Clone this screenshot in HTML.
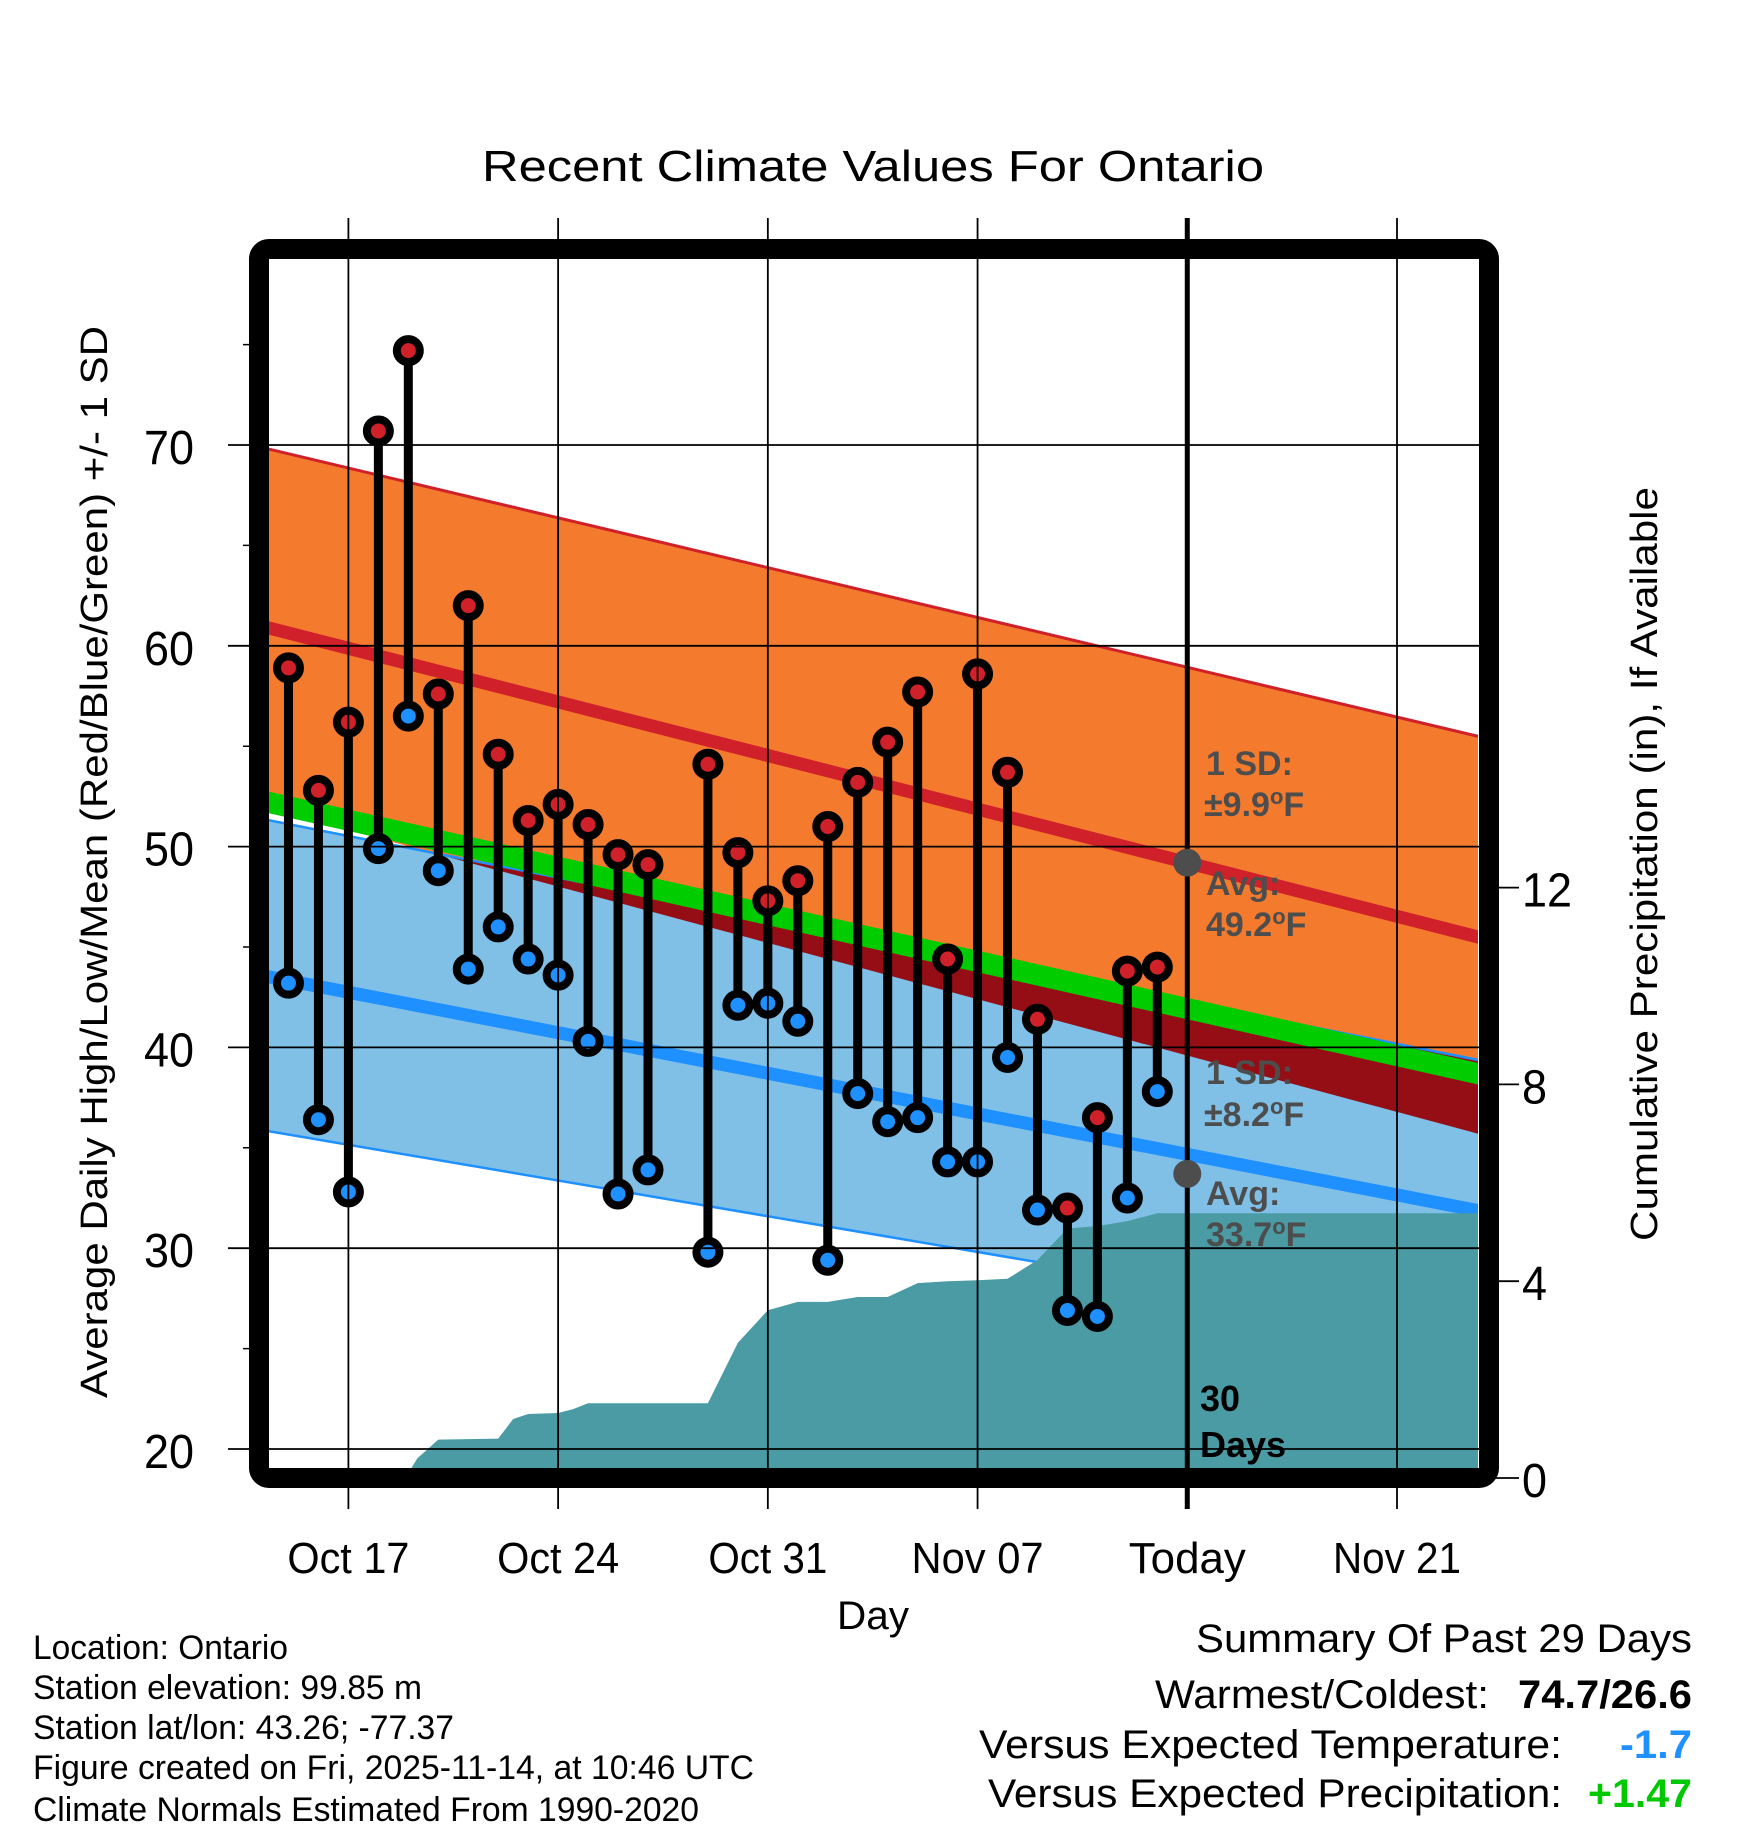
<!DOCTYPE html>
<html><head><meta charset="utf-8">
<style>
html,body{margin:0;padding:0;background:#fff;}
svg{display:block;font-family:"Liberation Sans",Arial,sans-serif;}
</style></head>
<body>
<svg id="chart" width="1748" height="1828" viewBox="0 0 1748 1828" xmlns="http://www.w3.org/2000/svg">
<defs><clipPath id="plotclip"><rect x="269" y="259" width="1209" height="1209"/></clipPath></defs>
<text x="873" y="181" font-size="44" text-anchor="middle" textLength="782" lengthAdjust="spacingAndGlyphs">Recent Climate Values For Ontario</text>
<g id="bands" clip-path="url(#plotclip)"></g>
<g id="marks"></g>
<g id="axes"></g>
<text transform="translate(107,862) rotate(-90)" font-size="38" text-anchor="middle" textLength="1072" lengthAdjust="spacingAndGlyphs">Average Daily High/Low/Mean (Red/Blue/Green) +/- 1 SD</text>
<text transform="translate(1657,864) rotate(-90)" font-size="38" text-anchor="middle" textLength="754" lengthAdjust="spacingAndGlyphs">Cumulative Precipitation (in), If Available</text>
<text x="873" y="1629" font-size="40" text-anchor="middle" textLength="72" lengthAdjust="spacingAndGlyphs">Day</text>
<g font-size="34">
<text x="33" y="1659" textLength="255" lengthAdjust="spacingAndGlyphs">Location: Ontario</text>
<text x="33" y="1699" textLength="389" lengthAdjust="spacingAndGlyphs">Station elevation: 99.85 m</text>
<text x="33" y="1739" textLength="421" lengthAdjust="spacingAndGlyphs">Station lat/lon: 43.26; -77.37</text>
<text x="33" y="1779" textLength="721" lengthAdjust="spacingAndGlyphs">Figure created on Fri, 2025-11-14, at 10:46 UTC</text>
<text x="33" y="1821" textLength="666" lengthAdjust="spacingAndGlyphs">Climate Normals Estimated From 1990-2020</text>
</g>
<g font-size="40">
<text x="1692" y="1652" text-anchor="end" textLength="496" lengthAdjust="spacingAndGlyphs">Summary Of Past 29 Days</text>
<text x="1489" y="1708" text-anchor="end" textLength="334" lengthAdjust="spacingAndGlyphs">Warmest/Coldest:</text>
<text x="1692" y="1708" text-anchor="end" font-weight="bold" textLength="174" lengthAdjust="spacingAndGlyphs">74.7/26.6</text>
<text x="1562" y="1758" text-anchor="end" textLength="583" lengthAdjust="spacingAndGlyphs">Versus Expected Temperature:</text>
<text x="1692" y="1758" text-anchor="end" font-weight="bold" fill="#1e90ff" textLength="72" lengthAdjust="spacingAndGlyphs">-1.7</text>
<text x="1562" y="1807" text-anchor="end" textLength="574" lengthAdjust="spacingAndGlyphs">Versus Expected Precipitation:</text>
<text x="1692" y="1807" text-anchor="end" font-weight="bold" fill="#00c800" textLength="104" lengthAdjust="spacingAndGlyphs">+1.47</text>
</g>
</svg>
<script>
// ---- data ----
// day offsets relative to Oct 17
const obsDays = [-2,-1,0,1,2,3,4,5,6,7,8,9,10,12,13,14,15,16,17,18,19,20,21,22,23,24,25,26,27];
const highs = [58.9,52.8,56.2,70.7,74.7,57.6,62.0,54.6,51.3,52.1,51.1,49.6,49.1,54.1,49.7,47.3,48.3,51.0,53.2,55.2,57.7,44.4,58.6,53.7,41.4,32.0,36.5,43.8,44.0];
const lows = [43.2,36.4,32.8,49.9,56.5,48.8,43.9,46.0,44.4,43.6,40.3,32.7,33.9,29.8,42.1,42.2,41.3,29.4,37.7,36.3,36.5,34.3,34.3,39.5,31.9,26.9,26.6,32.5,37.8];
const precipDays = [-2.95,1,1.5,2,2.3,3,4,5,5.5,6,7,7.5,8,9,10,11,12,13,14,15,16,17,18,19,20,21,22,23,24,25,26,27,37.96];
const precipCum = [0,0,0.02,0.1,0.4,0.78,0.79,0.8,1.2,1.3,1.32,1.4,1.52,1.52,1.52,1.52,1.52,2.75,3.41,3.58,3.58,3.68,3.68,3.96,4.0,4.02,4.05,4.43,5.07,5.12,5.22,5.38,5.38];
// normals at left edge (d=-2.95) and right edge (d=37.96)
const normEndDays = [-2.95,37.96];
const highAvg = [61.0,45.4];
const highUpper = [69.9,55.4];
const highLower = [52.0,35.6];
const lowAvg = [43.6,31.8];
const lowUpper = [51.4,39.3];
const lowLower = [35.9,25.5];
const xTickDays = [0,7,14,21,28,35];
const xTickLabels = ["Oct 17","Oct 24","Oct 31","Nov 07","Today","Nov 21"];
const xTickWidths = [122,122,119,132,117,128];
const yTicks = [20,30,40,50,60,70];
const yMinor = [25,35,45,55,65,75];
const pTicks = [0,4,8,12];
const todayDay = 28;
const todayHighAvg = 49.2, todayLowAvg = 33.7;

// ---- scales ----
function X(d){return 348.4+29.96*d;}
function Y(v){return 1449-(v-20)*20.08;}
function YP(p){return 1478-p*49.2;}
const NS="http://www.w3.org/2000/svg";
function mk(tag,attrs,parent){const e=document.createElementNS(NS,tag);for(const k in attrs)e.setAttribute(k,attrs[k]);parent.appendChild(e);return e;}
function lerp(arr,d){const t=(d-normEndDays[0])/(normEndDays[1]-normEndDays[0]);return arr[0]+(arr[1]-arr[0])*t;}
const bands=document.getElementById('bands'),marks=document.getElementById('marks'),axes=document.getElementById('axes');
const L=normEndDays[0],R=normEndDays[1];
function bandPts(up,lo){return `${X(L)},${Y(up[0])} ${X(R)},${Y(up[1])} ${X(R)},${Y(lo[1])} ${X(L)},${Y(lo[0])}`;}

let e;
e=mk('polygon',{points:bandPts(highUpper,highLower),fill:'#f47a2e'},bands);

e=mk('polygon',{points:bandPts(lowUpper,lowLower),fill:'#80bfe6'},bands);

// overlap region
{const up=[],lo=[];const N=60;
 for(let i=0;i<=N;i++){const d=L+(R-L)*i/N;const u=lerp(lowUpper,d);const l=Math.max(lerp(highLower,d),lerp(lowLower,d));if(u>l){up.push([d,u]);lo.push([d,l]);}}
 if(up.length){const s=up.map(p=>X(p[0])+','+Y(p[1])).concat(lo.reverse().map(p=>X(p[0])+','+Y(p[1])));
 e=mk('polygon',{points:s.join(' '),fill:'#950e16'},bands);
 }}
e=mk('line',{x1:X(L),y1:Y(highUpper[0]),x2:X(R),y2:Y(highUpper[1]),stroke:'#d0202a','stroke-width':3},bands);

e=mk('line',{x1:X(L),y1:Y(lowUpper[0]),x2:X(R),y2:Y(lowUpper[1]),stroke:'#1e90ff','stroke-width':2.5},bands);

e=mk('line',{x1:X(L),y1:Y(lowLower[0]),x2:X(R),y2:Y(lowLower[1]),stroke:'#1e90ff','stroke-width':2.5},bands);

e=mk('line',{x1:X(L),y1:Y(highAvg[0]),x2:X(R),y2:Y(highAvg[1]),stroke:'#d0202a','stroke-width':13},bands);

e=mk('line',{x1:X(L),y1:Y(lowAvg[0]),x2:X(R),y2:Y(lowAvg[1]),stroke:'#1e90ff','stroke-width':13},bands);

e=mk('line',{x1:X(L),y1:Y((highAvg[0]+lowAvg[0])/2),x2:X(R),y2:Y((highAvg[1]+lowAvg[1])/2),stroke:'#00cc00','stroke-width':21},bands);

// precip
{const s=[X(L)+','+YP(0)];for(let i=0;i<precipDays.length;i++)s.push(X(precipDays[i])+','+YP(precipCum[i]));s.push(X(R)+','+YP(0));
 e=mk('polygon',{points:s.join(' '),fill:'#4a9ba4'},bands);
 }

// gridlines
yTicks.forEach(v=>{e=mk('line',{x1:228,y1:Y(v),x2:1480,y2:Y(v),stroke:'#000','stroke-width':1.8},axes);
 
 e=mk('text',{x:194,y:Y(v)+19,'font-size':48,'text-anchor':'end',textLength:50,lengthAdjust:'spacingAndGlyphs'},axes);e.textContent=v;
 });
yMinor.forEach(v=>{e=mk('line',{x1:243,y1:Y(v),x2:262,y2:Y(v),stroke:'#000','stroke-width':1.5},axes);
 });
xTickDays.forEach((d,i)=>{const today=d===todayDay;
 e=mk('line',{x1:X(d),y1:218,x2:X(d),y2:1509,stroke:'#000','stroke-width':today?5:1.8},axes);
 
 e=mk('text',{x:X(d),y:1573,'font-size':44,'text-anchor':'middle',textLength:xTickWidths[i],lengthAdjust:'spacingAndGlyphs'},axes);e.textContent=xTickLabels[i];
 });
pTicks.forEach(p=>{e=mk('line',{x1:1489,y1:YP(p),x2:1519,y2:YP(p),stroke:'#000','stroke-width':1.8},axes);
 
 e=mk('text',{x:1522,y:YP(p)+19,'font-size':48,textLength:String(p).length*25,lengthAdjust:'spacingAndGlyphs'},axes);e.textContent=p;
 });

// annotations
function ann(x,y,lines,name){const t=mk('text',{x:x,y:y,'font-size':34,'font-weight':'bold',fill:'#4d4d4d'},marks);
 t.innerHTML=lines;return t;}
e=mk('circle',{cx:X(todayDay),cy:Y(todayHighAvg),r:14,fill:'#4d4d4d'},axes);

e=mk('circle',{cx:X(todayDay),cy:Y(todayLowAvg),r:14,fill:'#4d4d4d'},axes);


// stems & points
obsDays.forEach((d,i)=>{
 e=mk('line',{x1:X(d),y1:Y(highs[i]),x2:X(d),y2:Y(lows[i]),stroke:'#000','stroke-width':9},marks);
 
 e=mk('circle',{cx:X(d),cy:Y(highs[i]),r:11.5,fill:'#d0202a',stroke:'#000','stroke-width':8},marks);
 
 e=mk('circle',{cx:X(d),cy:Y(lows[i]),r:11.5,fill:'#1e90ff',stroke:'#000','stroke-width':8},marks);
 
});
const sx=1206;
ann(sx,775,'1 SD:','high-sd-label');
ann(sx-2,816,'±9.9<tspan font-size="22" dy="-12">o</tspan><tspan dy="12">F</tspan>','high-sd-value');
ann(sx,895,'Avg:','high-avg-label');
ann(sx,936,'49.2<tspan font-size="22" dy="-12">o</tspan><tspan dy="12">F</tspan>','high-avg-value');
ann(sx,1084,'1 SD:','low-sd-label');
ann(sx-2,1126,'±8.2<tspan font-size="22" dy="-12">o</tspan><tspan dy="12">F</tspan>','low-sd-value');
ann(sx,1205,'Avg:','low-avg-label');
ann(sx,1246,'33.7<tspan font-size="22" dy="-12">o</tspan><tspan dy="12">F</tspan>','low-avg-value');
e=mk('text',{x:1200,y:1411,'font-size':36,'font-weight':'bold'},marks);e.textContent='30';

e=mk('text',{x:1200,y:1457,'font-size':36,'font-weight':'bold'},marks);e.textContent='Days';


// frame
e=mk('rect',{x:259,y:249,width:1230,height:1229,rx:10,fill:'none',stroke:'#000','stroke-width':20},marks);

</script>
</body></html>
